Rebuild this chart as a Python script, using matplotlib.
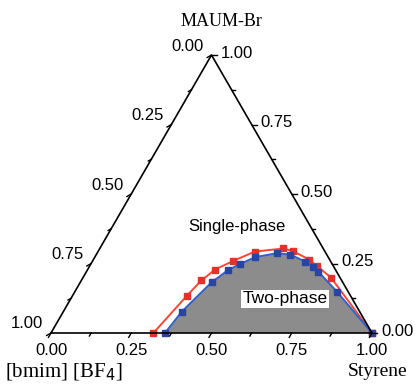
import numpy as np
import matplotlib.pyplot as plt

red_styrene = [0.319, 0.356, 0.374, 0.397, 0.437, 0.489, 0.572, 0.606, 0.672, 0.708, 0.773, 1.0]
red_maum = [0.0, 0.133, 0.189, 0.228, 0.259, 0.293, 0.304, 0.295, 0.264, 0.241, 0.199, 0.0]
blue_styrene = [0.355, 0.369, 0.409, 0.439, 0.465, 0.499, 0.560, 0.605, 0.663, 0.698, 0.722, 0.816, 1.0]
blue_maum = [0.0, 0.077, 0.182, 0.227, 0.248, 0.273, 0.287, 0.282, 0.257, 0.239, 0.221, 0.149, 0.0]

tick_values = [0.0, 0.25, 0.5, 0.75, 1.0]
tick_labels = ['0.00', '0.25', '0.50', '0.75', '1.00']
minor_values = [0.125, 0.375, 0.625, 0.875]

PX = 1 / 321.0  # un pixel en unidades del triangulo
H = np.sqrt(3) / 2


def to_xy(styr, maum):
    styr = np.asarray(styr, dtype=float)
    maum = np.asarray(maum, dtype=float)
    return styr + maum / 2, maum * H


fig = plt.figure(figsize=(4.19, 3.87), dpi=100)
ax = fig.add_axes([0, 0, 1, 1])
ax.set_xlim(-51 * PX, 368 * PX)
ax.set_ylim(-54 * PX, 333 * PX)
ax.axis('off')

sans = 'Liberation Sans'
serif = 'Liberation Serif'

# region de dos fases
bx, by = to_xy(blue_styrene, blue_maum)
ax.fill(bx, by, color='#8c8c8c', zorder=1, lw=0)

rx, ry = to_xy(red_styrene, red_maum)
ax.plot(rx, ry, color='#ff4535', lw=1.4, marker='s', ms=4.5, mfc='#e8302a', mec='#e8302a', zorder=3)
ax.plot(bx, by, color='#2f63d0', lw=1.4, marker='s', ms=4.5, mfc='#2845a5', mec='#2845a5', zorder=4)

# triangulo
tx, ty = to_xy([0, 1, 0, 0], [0, 0, 1, 0])
ax.plot(tx, ty, color='black', lw=1.2, zorder=5, solid_joinstyle='miter')

tl = 5 * PX
d_bottom = (np.cos(np.radians(240)), np.sin(np.radians(240)))
d_right = (1.0, 0.0)
d_left = (np.cos(np.radians(210)), np.sin(np.radians(210)))

for v in tick_values + minor_values:
    length = tl if v in tick_values else tl * 0.7
    # eje inferior (Styrene)
    x0, y0 = to_xy(v, 0)
    ax.plot([x0, x0 + d_bottom[0] * length], [y0, y0 + d_bottom[1] * length], color='black', lw=1, zorder=5)
    # eje derecho (MAUM-Br)
    x0, y0 = to_xy(1 - v, v)
    ax.plot([x0, x0 + d_right[0] * length], [y0, y0 + d_right[1] * length], color='black', lw=1, zorder=5)
    # eje izquierdo ([bmim][BF4])
    x0, y0 = to_xy(0, 1 - v)
    ax.plot([x0, x0 + d_left[0] * length], [y0, y0 + d_left[1] * length], color='black', lw=1, zorder=5)

for v, lab in zip(tick_values, tick_labels):
    x0, y0 = to_xy(v, 0)
    ax.text(x0, y0 - 10 * PX, lab, ha='center', va='top', fontsize=12, family=sans)
    x0, y0 = to_xy(1 - v, v)
    ax.text(x0 + 9 * PX, y0 + 2 * PX, lab, ha='left', va='center', fontsize=12, family=sans)
    x0, y0 = to_xy(0, 1 - v)
    ax.text(x0 - 8 * PX, y0 + 9 * PX, lab, ha='right', va='center', fontsize=12, family=sans)

ax.text(64 * PX - 51 * PX, -39 * PX, '[bmim] [BF$_4$]', ha='center', va='center', fontsize=15, family=serif)
ax.text(378 * PX - 51 * PX, -39 * PX, 'Styrene', ha='center', va='center', fontsize=14, family=serif)
ax.text(221 * PX - 51 * PX, 311 * PX, 'MAUM-Br', ha='center', va='center', fontsize=13, family=serif)

ax.text(0.579, 0.333, 'Single-phase', ha='center', va='center', fontsize=12, family=sans, zorder=6)
ax.text(0.729, 0.106, 'Two-phase', ha='center', va='center', fontsize=12.5, family=sans, zorder=6,
        bbox=dict(facecolor='white', edgecolor='none', pad=1))

fig.savefig('out.png', dpi=100)
